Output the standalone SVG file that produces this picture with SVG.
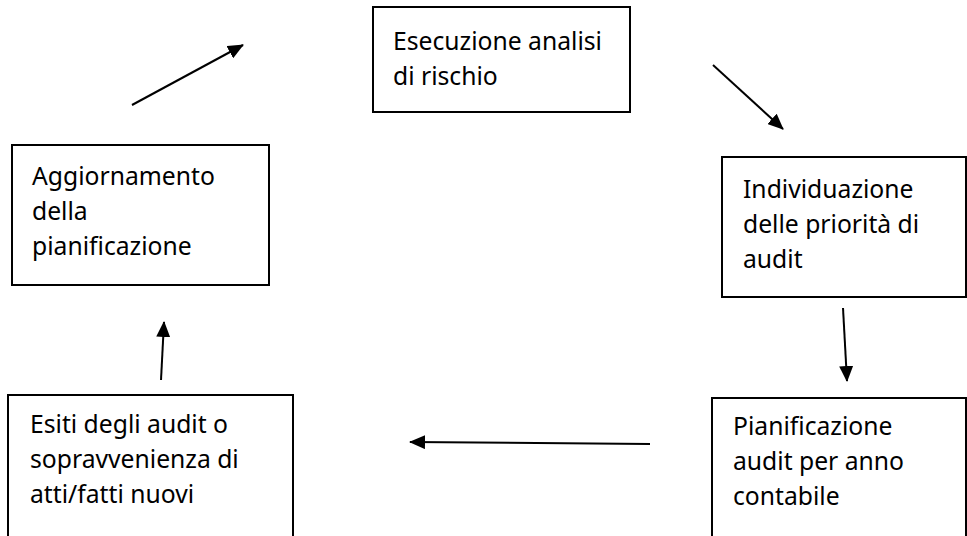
<svg xmlns="http://www.w3.org/2000/svg" width="967" height="536" viewBox="0 0 967 536">
<style>
.box{fill:#fff;stroke:#000;stroke-width:2}
.t{font-family:"Noto Sans","Open Sans",sans-serif;font-size:24.7px;fill:#000}
.c{stroke:#000;stroke-width:2;fill:none;marker-end:url(#ah)}
</style>
<defs>
<marker id="ah" viewBox="0 0 16 14" refX="15" refY="7" markerWidth="16" markerHeight="14" markerUnits="userSpaceOnUse" orient="auto">
<path d="M0,0 L16,7 L0,14 z" fill="#000"/>
</marker>
</defs>
<rect width="967" height="536" fill="#fff"/>
<g id="n1"><rect class="box" x="373" y="7" width="257" height="105"/>
<text class="t" x="393" y="50">Esecuzione analisi</text><text class="t" x="393" y="85">di rischio</text></g>
<g id="n2"><rect class="box" x="722" y="157" width="244" height="140"/>
<text class="t" x="743" y="198">Individuazione</text><text class="t" x="743" y="233">delle priorità di</text><text class="t" x="743" y="268">audit</text></g>
<g id="n3"><rect class="box" x="712" y="398" width="254" height="150"/>
<text class="t" x="733" y="435">Pianificazione</text><text class="t" x="733" y="470">audit per anno</text><text class="t" x="733" y="505">contabile</text></g>
<g id="n4"><rect class="box" x="8" y="395" width="285" height="150"/>
<text class="t" x="30" y="433">Esiti degli audit o</text><text class="t" x="30" y="468">sopravvenienza di</text><text class="t" x="30" y="503">atti/fatti nuovi</text></g>
<g id="n5"><rect class="box" x="12" y="145" width="257" height="140"/>
<text class="t" x="32" y="185">Aggiornamento</text><text class="t" x="32" y="220">della</text><text class="t" x="32" y="255">pianificazione</text></g>
<g id="connectors">
<line class="c" x1="132" y1="105" x2="243" y2="45"/>
<line class="c" x1="713" y1="65" x2="783" y2="129"/>
<line class="c" x1="843" y1="308" x2="847" y2="381"/>
<line class="c" x1="650" y1="444" x2="410" y2="442"/>
<line class="c" x1="161" y1="380" x2="164" y2="322"/>
</g>
</svg>
